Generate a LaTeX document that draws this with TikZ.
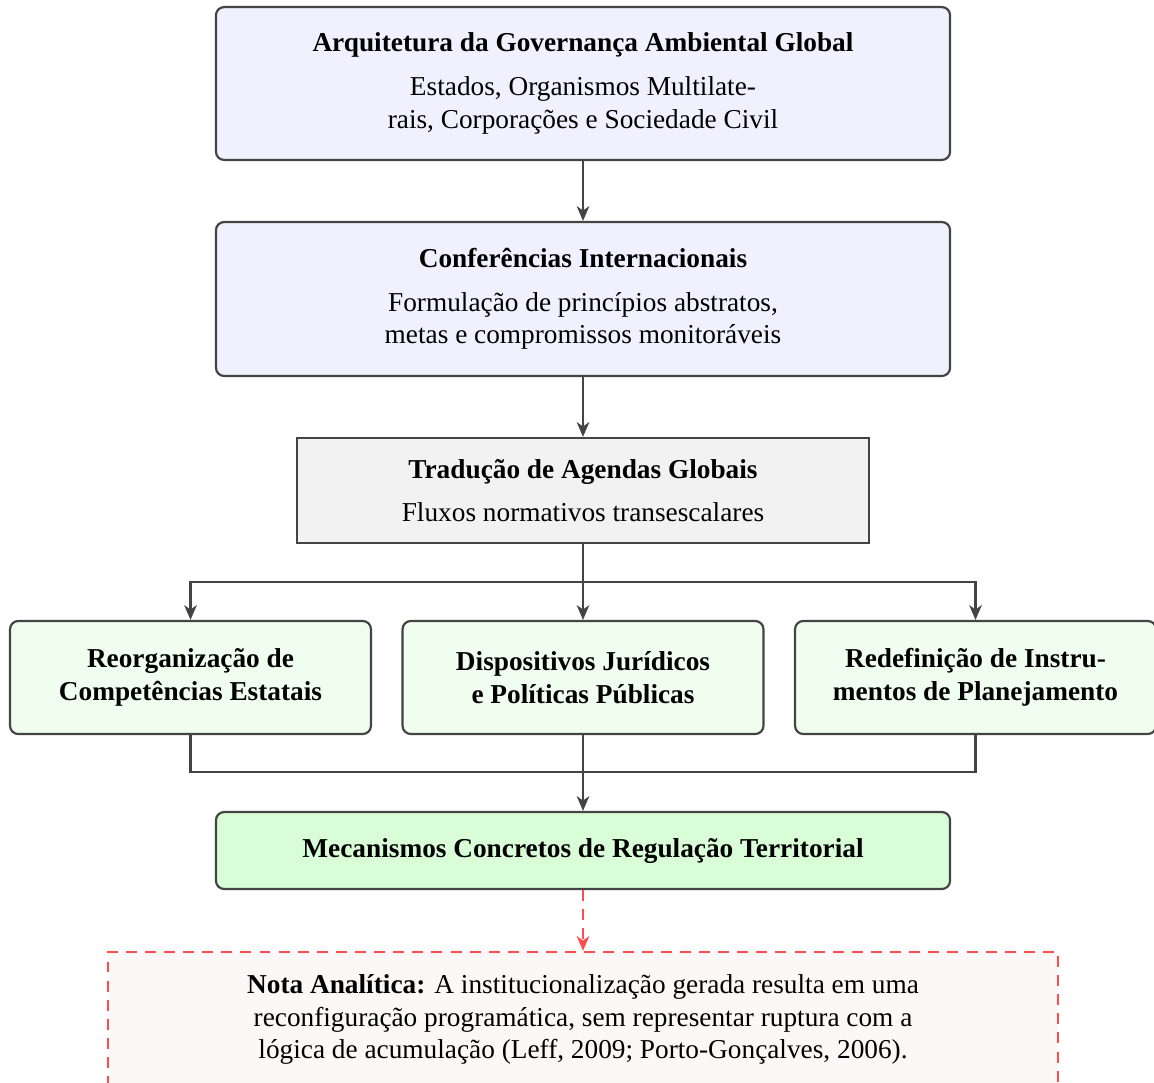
\documentclass[tikz,border=0pt]{standalone}
\usepackage{fontspec}
\setmainfont{Liberation Serif}
\usetikzlibrary{arrows.meta}
\definecolor{edge}{RGB}{68,68,68}
\definecolor{lav}{RGB}{240,240,254}
\definecolor{grayfill}{RGB}{242,242,242}
\definecolor{palegreen}{RGB}{240,254,240}
\definecolor{midgreen}{RGB}{217,254,215}
\definecolor{notered}{RGB}{255,77,77}
\definecolor{notefill}{RGB}{253,248,248}
\tikzset{
  base/.style={draw=edge, line width=0.8pt, inner sep=0pt, align=center, font=\fontsize{10}{12}\selectfont},
  roundbox/.style={base, rounded corners=3pt},
  conn/.style={draw=edge, line width=0.8pt},
  arr/.style={conn, -{Stealth[length=5.4pt, width=4.6pt, inset=1.6pt]}},
  notearr/.style={draw=notered, line width=0.8pt, dash pattern=on 4pt off 3pt, -{Stealth[length=5.4pt, width=4.6pt, inset=1.6pt]}},
}
\begin{document}
\begin{tikzpicture}[x=0.3663pt, y=-0.3663pt]
\useasboundingbox (0,0) rectangle (1154,1082);
\clip (0,0) rectangle (1154,1082);
\node[roundbox, fill=lav, minimum width=268.9pt, minimum height=56pt] (b1) at (583,83.5)
  {\textbf{Arquitetura da Governança Ambiental Global}\\[4pt]Estados, Organismos Multilate-\\rais, Corporações e Sociedade Civil};
\node[roundbox, fill=lav, minimum width=268.9pt, minimum height=56.4pt] (b2) at (583,299)
  {\textbf{Conferências Internacionais}\\[4pt]Formulação de princípios abstratos,\\metas e compromissos monitoráveis};
\node[base, fill=grayfill, minimum width=209.5pt, minimum height=38.5pt] (b3) at (583,490.5)
  {\textbf{Tradução de Agendas Globais}\\[4pt]Fluxos normativos transescalares};
\node[roundbox, fill=palegreen, minimum width=132.2pt, minimum height=41.4pt, font=\fontsize{10}{12}\selectfont\bfseries] (ba) at (190.5,677.5)
  {Reorganização de\\Competências Estatais};
\node[roundbox, fill=palegreen, minimum width=132.2pt, minimum height=41.4pt, font=\fontsize{10}{12}\selectfont\bfseries] (bb) at (583,677.5)
  {\raisebox{-1.1pt}{Dispositivos Jurídicos}\\\raisebox{-1.1pt}{e Políticas Públicas}};
\node[roundbox, fill=palegreen, minimum width=132.2pt, minimum height=41.4pt, font=\fontsize{10}{12}\selectfont\bfseries] (bc) at (975.5,677.5)
  {Redefinição de Instru-\\mentos de Planejamento};
\node[roundbox, fill=midgreen, minimum width=268.9pt, minimum height=28.2pt, font=\fontsize{10}{12}\selectfont\bfseries] (bd) at (583,850.5)
  {Mecanismos Concretos de Regulação Territorial};
\node[base, draw=notered, fill=notefill, dash pattern=on 4pt off 3pt, minimum width=348pt, minimum height=49.5pt] (note) at (583,1019.5)
  {\textbf{Nota Analítica:} A institucionalização gerada resulta em uma\\reconfiguração programática, sem representar ruptura com a\\lógica de acumulação (Leff, 2009; Porto-Gonçalves, 2006).};
\coordinate (sp) at (583,582);
\coordinate (jn) at (583,772);
\draw[arr] (b1) -- (b2);
\draw[arr] (b2) -- (b3);
\draw[conn] (b3.south) -- (sp);
\draw[arr] (sp) -| (ba.north);
\draw[arr] (sp) -| (bc.north);
\draw[arr] (sp) -- (bb.north);
\draw[conn] (ba.south) |- (jn);
\draw[conn] (bc.south) |- (jn);
\draw[arr] (bb.south) -- (bd.north);
\draw[notearr] (bd.south) -- (note.north);
\end{tikzpicture}
\end{document}
